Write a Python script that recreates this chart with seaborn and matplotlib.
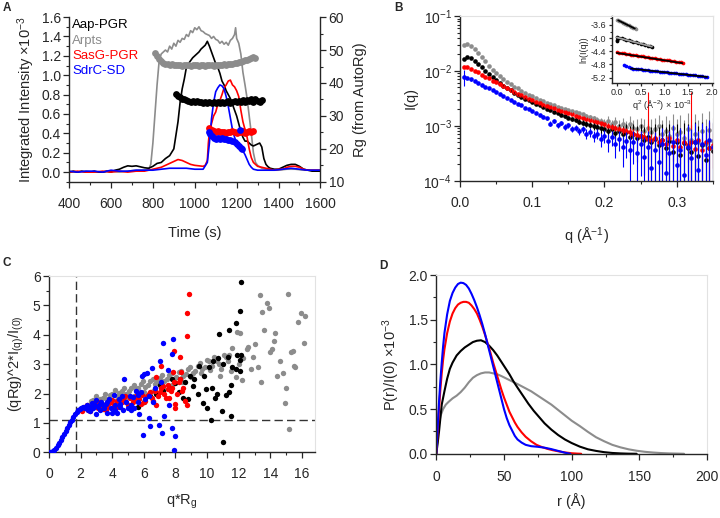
import numpy as np
import matplotlib
matplotlib.use("Agg")
import matplotlib.pyplot as plt
import seaborn as sns
from matplotlib.ticker import MultipleLocator, FormatStrFormatter, LogLocator, NullFormatter

# =========================================
# CORES
# =========================================

GRAY = "#8c8c8c"
RED = "#ff0000"
BLUE = "#0000ff"
BLACK = "#000000"
FAINT = "#e2e2e2"

# =========================================
# A - SEC-SAXS (intensidade e Rg)
# =========================================

aap_t = [400, 420, 440, 460, 480, 500, 520, 540, 560, 580,
         600, 620, 640, 660, 680, 700, 720, 740, 760, 780,
         800, 820, 840, 860, 880, 900, 910, 920, 930, 940,
         950, 960, 970, 980, 990, 1000, 1010, 1020, 1030, 1040,
         1050, 1060, 1070, 1080, 1090, 1100, 1110, 1120, 1130, 1140,
         1150, 1160, 1170, 1180, 1190, 1200, 1210, 1220, 1230, 1240,
         1250, 1260, 1270, 1280, 1290, 1300, 1310, 1320, 1330, 1340,
         1350, 1360, 1380, 1400, 1420, 1440, 1460, 1480, 1500, 1520,
         1540, 1560, 1580, 1600]
aap_i = [0.00, 0.01, 0.00, 0.01, 0.00, 0.00, 0.01, 0.00, 0.00, 0.01,
         0.00, 0.02, 0.03, 0.05, 0.065, 0.06, 0.065, 0.055, 0.045, 0.04,
         0.06, 0.09, 0.10, 0.14, 0.17, 0.24, 0.38, 0.52, 0.72, 0.86,
         0.96, 1.08, 1.12, 1.15, 1.18, 1.20, 1.22, 1.24, 1.27, 1.29,
         1.31, 1.35, 1.30, 1.24, 1.18, 1.12, 1.08, 1.02, 0.94, 0.90,
         0.84, 0.80, 0.76, 0.70, 0.64, 0.58, 0.50, 0.42, 0.36, 0.32,
         0.32, 0.30, 0.28, 0.27, 0.28, 0.29, 0.30, 0.26, 0.14, 0.08,
         0.055, 0.04, 0.03, 0.03, 0.05, 0.07, 0.08, 0.08, 0.06, 0.03,
         0.02, 0.01, 0.01, 0.01]

arp_t = [400, 440, 480, 520, 560, 600, 640, 680, 720, 760,
         780, 790, 800, 810, 820, 830, 840, 850, 860, 870,
         880, 890, 900, 910, 920, 930, 940, 950, 960, 970,
         980, 990, 1000, 1010, 1020, 1030, 1040, 1050, 1060, 1070,
         1080, 1090, 1100, 1110, 1120, 1130, 1140, 1150, 1160, 1170,
         1180, 1190, 1195, 1200, 1210, 1220, 1230, 1240, 1250, 1260,
         1270, 1280, 1290, 1300, 1320, 1340, 1360, 1400, 1440, 1480,
         1520, 1560, 1600]
arp_i = [0.00, 0.00, 0.01, 0.00, 0.00, 0.01, 0.00, 0.01, 0.02, 0.02,
         0.03, 0.08, 0.30, 0.60, 0.90, 1.15, 1.22, 1.24, 1.26, 1.24,
         1.30, 1.27, 1.33, 1.30, 1.36, 1.34, 1.38, 1.37, 1.42, 1.40,
         1.46, 1.44, 1.49, 1.47, 1.50, 1.46, 1.45, 1.43, 1.42, 1.41,
         1.38, 1.40, 1.37, 1.36, 1.33, 1.35, 1.32, 1.34, 1.31, 1.36,
         1.38, 1.42, 1.49, 1.38, 1.33, 1.22, 1.03, 0.90, 0.76, 0.58,
         0.40, 0.20, 0.10, 0.07, 0.04, 0.03, 0.02, 0.02, 0.03, 0.03,
         0.02, 0.02, 0.02]

sas_t = [400, 440, 480, 520, 560, 600, 640, 680, 720, 760,
         800, 820, 840, 860, 880, 900, 920, 940, 960, 980,
         1000, 1020, 1040, 1050, 1060, 1065, 1070, 1075, 1080, 1090,
         1100, 1110, 1120, 1130, 1140, 1150, 1160, 1170, 1180, 1190,
         1200, 1210, 1220, 1230, 1240, 1250, 1260, 1270, 1280, 1290,
         1300, 1320, 1340, 1360, 1380, 1400, 1420, 1440, 1460, 1480,
         1500, 1520, 1540, 1560, 1580, 1600]
sas_i = [0.00, 0.01, 0.00, 0.00, 0.01, 0.00, 0.01, 0.00, 0.01, 0.01,
         0.03, 0.04, 0.05, 0.07, 0.09, 0.11, 0.13, 0.12, 0.10, 0.08,
         0.07, 0.065, 0.06, 0.07, 0.12, 0.30, 0.42, 0.45, 0.50, 0.58,
         0.62, 0.70, 0.74, 0.80, 0.87, 0.90, 0.94, 0.95, 0.90, 0.88,
         0.84, 0.78, 0.64, 0.52, 0.44, 0.36, 0.24, 0.15, 0.10, 0.08,
         0.06, 0.05, 0.04, 0.03, 0.02, 0.03, 0.03, 0.05, 0.06, 0.06,
         0.05, 0.03, 0.02, 0.02, 0.02, 0.02]

sdr_t = [400, 440, 480, 520, 560, 600, 640, 680, 720, 760,
         800, 840, 880, 920, 960, 1000, 1040, 1060, 1070, 1080,
         1090, 1100, 1110, 1120, 1130, 1140, 1150, 1160, 1170, 1180,
         1190, 1200, 1210, 1220, 1230, 1240, 1250, 1260, 1270, 1280,
         1300, 1340, 1380, 1420, 1460, 1500, 1540, 1580, 1600]
sdr_i = [0.01, 0.00, 0.01, 0.01, 0.00, 0.02, 0.01, 0.01, 0.02, 0.02,
         0.02, 0.03, 0.04, 0.04, 0.04, 0.03, 0.03, 0.10, 0.30, 0.55,
         0.72, 0.83, 0.87, 0.90, 0.89, 0.86, 0.78, 0.68, 0.56, 0.44,
         0.36, 0.30, 0.27, 0.25, 0.22, 0.18, 0.13, 0.08, 0.05, 0.03,
         0.02, 0.02, 0.02, 0.03, 0.04, 0.03, 0.02, 0.02, 0.02]

arp_rg_t = [810, 820, 830, 840, 850, 860, 870, 880, 890, 900,
            910, 920, 930, 940, 950, 960, 970, 980, 990, 1000,
            1010, 1020, 1030, 1040, 1050, 1060, 1070, 1080, 1090, 1100,
            1110, 1120, 1130, 1140, 1150, 1160, 1170, 1180, 1190, 1200,
            1210, 1220, 1230, 1240, 1250, 1260, 1270, 1280, 1290]
arp_rg = [49.0, 48.2, 47.3, 46.6, 46.2, 45.9, 45.8, 45.6, 45.7, 45.5,
          45.6, 45.4, 45.5, 45.3, 45.5, 45.4, 45.6, 45.3, 45.5, 45.4,
          45.6, 45.3, 45.4, 45.5, 45.3, 45.5, 45.4, 45.6, 45.3, 45.5,
          45.4, 45.6, 45.5, 45.7, 45.6, 45.8, 45.7, 45.9, 46.0, 46.1,
          46.3, 46.5, 46.6, 46.9, 47.1, 47.3, 47.6, 47.8, 47.5]

aap_rg_t = [910, 920, 930, 940, 950, 960, 970, 980, 990, 1000,
            1010, 1020, 1030, 1040, 1050, 1060, 1070, 1080, 1090, 1100,
            1110, 1120, 1130, 1140, 1150, 1160, 1170, 1180, 1190, 1200,
            1210, 1220, 1230, 1240, 1250, 1260, 1270, 1280, 1290, 1300,
            1310, 1320]
aap_rg = [36.6, 36.0, 35.6, 35.2, 35.0, 34.7, 34.6, 34.3, 34.5, 34.2,
          34.4, 34.1, 34.3, 34.0, 34.2, 33.9, 34.1, 33.8, 34.2, 33.9,
          34.1, 34.0, 34.3, 33.9, 34.2, 34.4, 34.0, 34.3, 34.6, 34.1,
          34.5, 34.2, 34.7, 34.3, 34.8, 34.4, 35.0, 34.3, 35.2, 34.6,
          34.3, 34.8]

sas_rg_t = [1070, 1080, 1090, 1100, 1110, 1120, 1130, 1140, 1150, 1160,
            1170, 1180, 1190, 1200, 1210, 1220, 1230, 1240, 1250, 1260,
            1270, 1280]
sas_rg = [26.2, 25.6, 25.4, 25.2, 25.3, 25.0, 25.2, 25.1, 24.9, 25.2,
          25.0, 25.3, 25.1, 24.8, 25.2, 25.0, 25.3, 24.9, 25.2, 25.4,
          25.0, 25.3]

sdr_rg_t = [1070, 1075, 1080, 1090, 1100, 1110, 1120, 1130, 1140, 1150,
            1160, 1170, 1180, 1190, 1200, 1210, 1215, 1220, 1225]
sdr_rg = [25.0, 24.6, 24.0, 23.4, 23.1, 23.3, 23.0, 23.2, 23.1, 22.9,
          22.8, 22.6, 22.3, 22.0, 21.4, 20.8, 25.6, 20.2, 20.0]

legend_names = ["Aap-PGR", "Arpts", "SasG-PGR", "SdrC-SD"]
legend_colors = [BLACK, GRAY, RED, BLUE]

# =========================================
# B - I(q) (valores em 10^-3)
# =========================================

q_b = [0.005, 0.010, 0.015, 0.020, 0.025, 0.030, 0.035, 0.040, 0.045, 0.050,
       0.055, 0.060, 0.065, 0.070, 0.075, 0.080, 0.085, 0.090, 0.095, 0.100,
       0.105, 0.110, 0.115, 0.120, 0.125, 0.130, 0.135, 0.140, 0.145, 0.150,
       0.155, 0.160, 0.165, 0.170, 0.175, 0.180, 0.185, 0.190, 0.195, 0.200,
       0.205, 0.210, 0.215, 0.220, 0.225, 0.230, 0.235, 0.240, 0.245, 0.250,
       0.255, 0.260, 0.265, 0.270, 0.275, 0.280, 0.285, 0.290, 0.295, 0.300,
       0.305, 0.310, 0.315, 0.320, 0.325, 0.330, 0.335, 0.340, 0.345, 0.350]

arp_iq = [30, 31.5, 29, 25.5, 21.5, 18, 15, 12.5, 10.5, 9.0,
          8.0, 7.2, 6.4, 5.8, 5.2, 4.8, 4.4, 4.0, 3.7, 3.45,
          3.2, 3.0, 2.8, 2.65, 2.5, 2.35, 2.25, 2.15, 2.05, 1.95,
          1.85, 1.78, 1.7, 1.62, 1.52, 1.45, 1.38, 1.3, 1.22, 1.15,
          1.25, 1.08, 1.18, 1.0, 1.06, 0.95, 1.1, 0.92, 0.86, 0.98,
          0.82, 0.9, 0.78, 0.88, 1.0, 0.72, 0.82, 0.66, 0.92, 0.7,
          0.78, 0.6, 0.86, 0.56, 0.72, 0.5, 0.8, 0.46, 0.85, 0.52]
arp_err = [0.6, 0.5, 0.4, 0.3, 0.25, 0.2, 0.15, 0.12, 0.1, 0.08,
           0.07, 0.06, 0.06, 0.05, 0.05, 0.05, 0.05, 0.05, 0.05, 0.05,
           0.06, 0.06, 0.07, 0.07, 0.08, 0.08, 0.09, 0.09, 0.1, 0.1,
           0.11, 0.11, 0.12, 0.12, 0.13, 0.14, 0.15, 0.16, 0.17, 0.18,
           0.25, 0.22, 0.3, 0.26, 0.35, 0.3, 0.4, 0.35, 0.45, 0.4,
           0.5, 0.45, 0.55, 0.5, 0.6, 0.55, 0.7, 0.6, 0.75, 0.65,
           0.8, 0.7, 0.85, 0.75, 0.9, 0.8, 0.95, 0.85, 1.0, 0.9]

aap_iq = [16.5, 18, 17, 15.2, 13.3, 11.6, 10.1, 8.8, 7.7, 6.8,
          6.0, 5.4, 4.9, 4.45, 4.05, 3.7, 3.4, 3.15, 2.9, 2.7,
          2.5, 2.35, 2.2, 2.05, 1.92, 1.8, 1.7, 1.6, 1.5, 1.42,
          1.35, 1.28, 1.2, 1.15, 1.1, 1.05, 1.0, 0.95, 0.9, 0.88,
          0.8, 0.86, 0.74, 0.8, 0.7, 0.76, 0.64, 0.72, 0.6, 0.66,
          0.55, 0.62, 0.5, 0.58, 0.45, 0.56, 0.4, 0.52, 0.34, 0.5,
          0.3, 0.48, 0.4, 0.34, 0.5, 0.28, 0.45, 0.24, 0.4, 0.35]
aap_err = [0.4, 0.35, 0.3, 0.25, 0.2, 0.15, 0.12, 0.1, 0.08, 0.07,
           0.06, 0.05, 0.05, 0.05, 0.05, 0.05, 0.05, 0.05, 0.05, 0.05,
           0.05, 0.06, 0.06, 0.07, 0.07, 0.08, 0.08, 0.09, 0.09, 0.1,
           0.1, 0.11, 0.12, 0.13, 0.14, 0.15, 0.16, 0.17, 0.18, 0.2,
           0.22, 0.24, 0.26, 0.28, 0.3, 0.32, 0.34, 0.36, 0.38, 0.4,
           0.42, 0.44, 0.46, 0.48, 0.5, 0.52, 0.54, 0.56, 0.58, 0.6,
           0.62, 0.64, 0.66, 0.68, 0.7, 0.72, 0.74, 0.76, 0.78, 0.8]

sas_iq = [12.0, 11.6, 10.9, 10.1, 9.4, 8.6, 7.9, 7.3, 6.7, 6.2,
          5.7, 5.25, 4.85, 4.5, 4.15, 3.85, 3.6, 3.35, 3.15, 2.95,
          2.75, 2.6, 2.45, 2.32, 2.2, 2.08, 1.98, 1.88, 1.78, 1.7,
          1.62, 1.54, 1.47, 1.4, 1.33, 1.27, 1.21, 1.16, 1.11, 1.06,
          1.01, 0.96, 0.92, 0.88, 0.84, 0.8, 0.76, 0.72, 0.69, 0.66,
          0.62, 0.58, 0.55, 0.6, 0.5, 0.56, 0.46, 0.6, 0.43, 0.55,
          0.41, 0.5, 0.44, 0.5, 0.38, 0.55, 0.36, 0.5, 0.4, 0.45]
sas_err = [0.3, 0.25, 0.2, 0.15, 0.12, 0.1, 0.08, 0.07, 0.06, 0.05,
           0.05, 0.05, 0.05, 0.05, 0.05, 0.05, 0.05, 0.05, 0.05, 0.05,
           0.05, 0.05, 0.05, 0.05, 0.06, 0.06, 0.06, 0.06, 0.07, 0.07,
           0.07, 0.08, 0.08, 0.08, 0.09, 0.09, 0.09, 0.1, 0.1, 0.1,
           0.11, 0.11, 0.12, 0.12, 0.13, 0.13, 0.14, 0.14, 0.15, 0.15,
           0.16, 3.5, 0.17, 0.17, 0.18, 0.18, 0.19, 0.19, 0.2, 0.2,
           0.21, 0.21, 0.22, 3.6, 0.23, 0.24, 0.25, 0.26, 0.8, 0.28]

sdr_iq = [7.8, 7.4, 7.0, 6.5, 6.1, 5.6, 5.2, 4.85, 4.5, 4.15,
          3.85, 3.55, 3.25, 3.0, 2.75, 2.55, 2.35, 2.15, 2.0, 1.85,
          1.7, 1.58, 1.47, 1.38, 1.1, 1.25, 1.02, 1.12, 0.96, 1.02,
          0.88, 0.92, 0.8, 0.86, 0.72, 0.78, 0.65, 0.72, 0.58, 0.66,
          0.52, 0.62, 0.46, 0.57, 0.42, 0.52, 0.36, 0.5, 0.32, 0.46,
          0.27, 0.42, 0.17, 0.36, 0.22, 0.46, 0.14, 0.32, 0.5, 0.19,
          0.36, 0.13, 0.42, 0.26, 0.5, 0.16, 0.46, 0.3, 0.55, 0.42]
sdr_err = [2.5, 0.4, 0.3, 0.25, 0.2, 0.15, 0.12, 0.1, 0.09, 0.08,
           0.07, 0.07, 0.06, 0.06, 0.06, 0.06, 0.06, 0.06, 0.06, 0.06,
           0.07, 0.07, 0.08, 0.08, 0.12, 0.1, 0.1, 0.1, 0.11, 0.11,
           0.12, 0.12, 0.13, 0.13, 0.14, 0.14, 0.15, 0.15, 0.16, 0.17,
           0.18, 0.19, 0.2, 0.22, 0.24, 0.26, 0.28, 0.3, 0.32, 0.34,
           0.36, 0.38, 0.4, 0.42, 0.44, 0.46, 0.48, 0.5, 0.52, 0.54,
           0.56, 0.58, 0.6, 0.62, 0.64, 0.66, 0.68, 0.7, 0.72, 0.74]

# inset Guinier: q^2 (x10^-3) vs ln(I)
ins_arp_x = [0.0, 0.025, 0.05, 0.075, 0.1, 0.125, 0.15, 0.175, 0.2, 0.225,
             0.25, 0.275, 0.3, 0.325, 0.35, 0.375, 0.4]
ins_arp_y = [-3.44, -3.46, -3.475, -3.495, -3.51, -3.53, -3.545, -3.565, -3.58, -3.6,
             -3.615, -3.635, -3.65, -3.67, -3.685, -3.705, -3.72]
ins_aap_x = [0.0, 0.0, 0.01, 0.05, 0.1, 0.15, 0.2, 0.25, 0.3, 0.35,
             0.4, 0.45, 0.5, 0.55, 0.6, 0.65, 0.7, 0.74]
ins_aap_y = [-3.97, -4.06, -4.1, -3.99, -4.01, -4.03, -4.05, -4.07, -4.09, -4.11,
             -4.13, -4.15, -4.17, -4.19, -4.21, -4.23, -4.25, -4.26]
ins_sas_x = [0.0, 0.05, 0.1, 0.15, 0.2, 0.25, 0.3, 0.35, 0.4, 0.45,
             0.5, 0.55, 0.6, 0.65, 0.7, 0.75, 0.8, 0.85, 0.9, 0.95,
             1.0, 1.05, 1.1, 1.15, 1.2, 1.25, 1.3, 1.35, 1.4]
ins_sas_y = [-4.43, -4.44, -4.45, -4.465, -4.475, -4.49, -4.5, -4.51, -4.52, -4.535,
             -4.545, -4.555, -4.57, -4.58, -4.59, -4.6, -4.615, -4.625, -4.635, -4.65,
             -4.66, -4.67, -4.68, -4.695, -4.705, -4.715, -4.73, -4.74, -4.755]
ins_sdr_x = [0.15, 0.2, 0.25, 0.3, 0.35, 0.4, 0.45, 0.5, 0.55, 0.6,
             0.65, 0.7, 0.75, 0.8, 0.85, 0.9, 0.95, 1.0, 1.05, 1.1,
             1.15, 1.2, 1.25, 1.3, 1.35, 1.4, 1.45, 1.5, 1.55, 1.6,
             1.65, 1.7, 1.75, 1.8, 1.85, 1.9]
ins_sdr_y = [-4.83, -4.86, -4.89, -4.92, -4.93, -4.935, -4.945, -4.95, -4.96, -4.97,
             -4.975, -4.985, -4.99, -5.0, -5.01, -5.015, -5.025, -5.03, -5.04, -5.05,
             -5.055, -5.065, -5.07, -5.08, -5.09, -5.095, -5.105, -5.11, -5.12, -5.13,
             -5.135, -5.145, -5.15, -5.16, -5.17, -5.175]

fit_arp_x, fit_arp_y = [0.03, 0.38], [-3.46, -3.71]
fit_aap_x, fit_aap_y = [0.0, 0.74], [-3.98, -4.26]
fit_sas_x, fit_sas_y = [0.0, 1.38], [-4.45, -4.76]
fit_sdr_x, fit_sdr_y = [0.3, 1.9], [-4.925, -5.18]

# =========================================
# C - Kratky adimensional
# =========================================

GUINIER_X = 1.73
GUINIER_Y = 1.1

arp_kr_x = [2.5, 2.8, 3.1, 3.4, 3.7, 4.0, 4.3, 4.6, 4.9, 5.2,
            5.5, 5.8, 6.1, 6.4, 6.7, 7.0, 7.3, 7.6, 7.9, 8.2,
            8.5, 8.8, 9.1, 9.4, 9.7, 10.0, 10.3, 10.6, 10.9, 11.2,
            11.5, 11.8,
            3.0, 3.6, 4.2, 4.8, 5.4, 6.0, 6.6, 7.2, 7.8, 8.4,
            9.0, 9.6, 10.2, 10.8, 11.4, 12.0,
            2.65, 2.95, 3.25, 3.55, 3.85, 4.15, 4.45, 4.75, 5.05, 5.35,
            5.65, 5.95, 6.25, 6.55, 6.85, 7.15, 7.45, 7.75, 8.05, 8.35,
            8.65, 8.95, 9.25, 9.55, 9.85, 10.15, 10.45, 10.75, 11.05, 11.35,
            11.9, 12.1, 12.2, 12.3, 12.8, 12.6, 13.0, 13.2, 13.35, 13.46,
            13.57, 13.78, 13.9, 14.0, 14.2, 14.4, 14.6, 14.8, 14.94, 15.13,
            15.2, 15.4, 15.5, 15.55, 15.76, 15.95, 16.1, 16.2, 12.5, 13.4,
            14.1, 14.3, 15.0, 15.3, 11.6, 12.9]
arp_kr_y = [1.62, 1.78, 1.68, 1.86, 1.8, 1.97, 1.9, 2.08, 2.0, 2.18,
            2.15, 2.32, 2.22, 2.42, 2.33, 2.52, 2.42, 2.62, 2.5, 2.72,
            2.6, 2.85, 2.7, 2.95, 2.85, 3.15, 2.95, 3.1, 2.85, 3.25,
            2.75, 2.55,
            1.55, 1.65, 1.75, 1.82, 1.9, 2.05, 2.1, 2.2, 2.3, 2.4,
            2.55, 2.7, 2.8, 2.6, 3.3, 3.0,
            1.75, 1.9, 1.82, 2.0, 1.95, 2.12, 2.02, 2.2, 2.1, 2.3,
            2.2, 2.42, 2.3, 2.5, 2.4, 2.62, 2.48, 2.7, 2.55, 2.78,
            2.65, 2.9, 2.75, 3.05, 2.9, 3.1, 3.25, 3.0, 3.3, 3.1,
            4.1, 4.05, 2.45, 3.2, 2.85, 3.6, 3.7, 2.9, 5.35, 4.77,
            4.18, 5.1, 4.9, 3.4, 3.8, 2.6, 3.1, 2.7, 1.68, 5.4,
            0.8, 3.45, 2.95, 2.9, 4.43, 4.73, 3.73, 4.65, 3.5, 2.4,
            3.5, 4.05, 2.2, 3.4, 3.55, 3.25]

aap_kr_x = [5.6, 6.0, 6.4, 6.8, 7.2, 7.6, 8.0, 8.3, 8.6, 8.9,
            9.2, 9.5, 9.8, 10.1, 10.4, 10.7, 11.0, 11.3, 11.6, 11.9,
            12.1,
            7.0, 7.8, 8.2, 8.8, 9.4, 9.9, 10.3, 10.6, 11.2, 11.5,
            11.8, 12.1,
            9.77, 10.23, 10.93, 11.03, 11.5, 10.74, 11.37, 11.81, 12.05, 12.15,
            12.13,
            8.5, 9.1, 10.0, 10.5, 11.4]
aap_kr_y = [1.55, 1.7, 1.9, 2.0, 2.1, 2.2, 2.35, 2.5, 2.4, 2.6,
            2.5, 2.95, 2.6, 2.9, 3.1, 3.2, 3.0, 3.25, 2.9, 3.3,
            3.15,
            2.3, 2.5, 2.05, 1.8, 2.0, 2.15, 2.2, 2.0, 1.95, 2.3,
            2.85, 2.75,
            1.68, 1.1, 1.41, 0.36, 1.24, 4.03, 4.16, 4.39, 4.82, 5.79,
            3.31,
            1.85, 2.25, 1.5, 1.85, 2.05]

sas_kr_x = [2.1, 2.3, 2.5, 2.7, 2.9, 3.1, 3.3, 3.5, 3.7, 3.9,
            4.1, 4.3, 4.5, 4.7, 4.9, 5.1, 5.3, 5.5, 5.7, 5.9,
            6.1, 6.3, 6.5, 6.7, 6.9, 7.1, 7.3, 7.5, 7.7, 7.9,
            8.1, 8.3, 8.5, 8.7,
            2.4, 2.8, 3.2, 3.6, 4.0, 4.4, 4.8, 5.2, 5.6, 6.0,
            6.4, 6.8, 7.2, 7.6, 8.0, 8.4,
            2.2, 2.6, 3.0, 3.4, 3.8, 4.2, 4.6, 5.0, 5.4, 5.8,
            6.2, 6.6, 7.0, 7.4, 7.8, 8.2,
            7.9, 8.27, 8.6, 8.76, 8.76, 8.84, 7.1, 7.85, 8.38, 6.8,
            7.53, 8.0]
sas_kr_y = [1.42, 1.5, 1.45, 1.55, 1.6, 1.5, 1.58, 1.62, 1.55, 1.7,
            1.6, 1.75, 1.65, 1.8, 1.72, 1.85, 1.7, 1.9, 1.8, 1.95,
            1.75, 2.0, 1.85, 2.1, 1.9, 2.2, 2.0, 2.3, 2.1, 2.4,
            2.0, 2.5, 2.2, 1.6,
            1.6, 1.68, 1.72, 1.45, 1.78, 1.55, 1.9, 1.62, 2.0, 1.7,
            2.05, 1.6, 2.25, 1.85, 1.65, 2.1,
            1.55, 1.4, 1.65, 1.48, 1.68, 1.5, 1.7, 1.6, 1.8, 1.65,
            1.9, 1.75, 2.05, 1.85, 2.2, 2.4,
            3.44, 3.24, 1.73, 3.95, 4.75, 5.4, 2.95, 2.73, 2.73, 2.55,
            2.16, 1.5]

sdr_kr_x = [0.05, 0.15, 0.25, 0.35, 0.45, 0.55, 0.65, 0.75, 0.85, 0.95,
            1.05, 1.15, 1.25, 1.35, 1.45, 1.55, 1.65, 1.75, 1.85, 1.95,
            2.05, 2.15, 2.25,
            2.3, 2.4, 2.5, 2.6, 2.7, 2.8, 2.9, 3.0, 3.0, 3.1,
            3.2, 3.3, 3.4, 3.5, 3.6, 3.7, 3.8, 3.9, 4.0, 4.1,
            4.2, 4.3, 4.4, 4.5, 4.6, 4.7, 4.75, 4.9, 5.0, 5.1,
            5.2, 5.3, 5.4, 5.5, 5.6, 5.7, 5.8, 5.9, 5.95, 6.0,
            6.1, 6.2, 6.35, 6.4, 6.5, 6.6, 6.7, 6.95, 7.0, 7.1,
            7.15, 7.2, 7.3, 7.5, 7.6, 7.75, 7.75, 7.85, 7.9, 7.95,
            2.6, 3.2, 3.7, 4.2, 4.5, 5.2, 5.6, 6.3]
sdr_kr_y = [0.0, 0.01, 0.04, 0.09, 0.15, 0.23, 0.31, 0.41, 0.52, 0.62,
            0.72, 0.83, 0.93, 1.02, 1.1, 1.2, 1.3, 1.37, 1.43, 1.47,
            1.5, 1.54, 1.55,
            1.5, 1.62, 1.45, 1.55, 1.68, 1.5, 1.6, 1.78, 1.3, 1.55,
            1.45, 1.72, 1.6, 1.52, 1.64, 1.35, 1.8, 1.5, 1.35, 1.95,
            1.62, 1.35, 1.8, 1.55, 1.9, 1.45, 2.48, 1.72, 1.5, 1.92,
            1.62, 1.88, 1.5, 2.1, 1.95, 1.3, 2.05, 2.6, 0.59, 2.67,
            1.8, 2.7, 1.15, 0.89, 2.88, 1.7, 2.2, 0.92, 3.1, 2.4,
            0.65, 3.72, 1.25, 2.8, 1.6, 3.35, 0.82, 3.86, 0.08, 0.55,
            1.42, 1.65, 1.7, 1.45, 1.65, 1.45, 1.7, 1.9]

# =========================================
# D - P(r)
# =========================================

arp_r = [0, 1, 2, 3, 5, 7, 9, 12, 15, 18,
         21, 24, 27, 30, 33, 36, 39, 42, 45, 48,
         52, 56, 60, 65, 70, 75, 80, 85, 90, 95,
         100, 106, 112, 118, 124, 130, 136, 142, 148, 154,
         160, 166, 172, 178, 183]
arp_pr = [0, 0.19, 0.33, 0.42, 0.5, 0.55, 0.58, 0.62, 0.65, 0.69,
          0.74, 0.8, 0.85, 0.88, 0.9, 0.91, 0.91, 0.9, 0.89, 0.87,
          0.84, 0.81, 0.78, 0.74, 0.7, 0.65, 0.6, 0.55, 0.49, 0.43,
          0.37, 0.31, 0.245, 0.185, 0.14, 0.1, 0.072, 0.05, 0.034, 0.022,
          0.014, 0.008, 0.004, 0.002, 0.0]

aap_r = [0, 1, 2, 4, 6, 8, 10, 12, 15, 18,
         21, 24, 27, 30, 33, 36, 39, 42, 45, 48,
         51, 54, 57, 60, 64, 68, 72, 76, 80, 85,
         90, 95, 100, 106, 112, 118, 124, 130, 136, 142,
         148]
aap_pr = [0, 0.12, 0.25, 0.55, 0.7, 0.84, 0.95, 1.02, 1.1, 1.15,
          1.19, 1.22, 1.25, 1.265, 1.27, 1.25, 1.21, 1.16, 1.1, 1.03,
          0.96, 0.89, 0.81, 0.74, 0.65, 0.56, 0.48, 0.41, 0.34, 0.27,
          0.21, 0.16, 0.12, 0.08, 0.05, 0.032, 0.018, 0.009, 0.004, 0.001,
          0.0]

sas_r = [0, 1, 2, 3, 4, 5, 6, 8, 10, 12,
         14, 16, 18, 20, 22, 24, 26, 28, 30, 32,
         34, 36, 38, 40, 42, 44, 46, 48, 50, 52,
         54, 56, 58, 60, 63, 66, 70, 74, 78, 82,
         86, 90, 95, 100, 104, 107]
sas_pr = [0, 0.25, 0.5, 0.72, 0.9, 1.05, 1.17, 1.35, 1.48, 1.57,
          1.63, 1.67, 1.69, 1.70, 1.70, 1.69, 1.66, 1.62, 1.57, 1.5,
          1.42, 1.33, 1.23, 1.13, 1.02, 0.92, 0.82, 0.72, 0.63, 0.55,
          0.47, 0.41, 0.35, 0.3, 0.24, 0.19, 0.14, 0.1, 0.075, 0.055,
          0.04, 0.028, 0.015, 0.006, 0.002, 0.0]

sdr_r = [0, 1, 2, 3, 4, 5, 6, 8, 10, 12,
         14, 16, 18, 20, 22, 24, 26, 28, 30, 32,
         34, 36, 38, 40, 42, 44, 46, 48, 50, 52,
         54, 56, 58, 60, 63, 66, 70, 75, 80, 85,
         90, 95, 99]
sdr_pr = [0, 0.3, 0.58, 0.82, 1.02, 1.2, 1.35, 1.56, 1.71, 1.8,
          1.86, 1.9, 1.915, 1.91, 1.89, 1.85, 1.79, 1.72, 1.64, 1.55,
          1.45, 1.34, 1.22, 1.1, 0.98, 0.86, 0.74, 0.62, 0.5, 0.4,
          0.32, 0.26, 0.2, 0.16, 0.125, 0.1, 0.085, 0.078, 0.068, 0.052,
          0.032, 0.012, 0.0]

# =========================================
# ESTILO
# =========================================

sns.set_style("ticks")
plt.rcParams["font.family"] = ["Liberation Sans", "DejaVu Sans"]
plt.rcParams["mathtext.fontset"] = "custom"
plt.rcParams["mathtext.rm"] = "Liberation Sans"
plt.rcParams["mathtext.it"] = "Liberation Sans:italic"
plt.rcParams["mathtext.bf"] = "Liberation Sans:bold"

TICK_FS = 10
LABEL_FS = 10.5


def style_axes(ax, faint=True, fs=TICK_FS, xpad=7):
    ax.spines["left"].set_linewidth(1.0)
    ax.spines["bottom"].set_linewidth(1.0)
    for s in ["top", "right"]:
        if faint:
            ax.spines[s].set_color(FAINT)
            ax.spines[s].set_linewidth(0.8)
        else:
            ax.spines[s].set_visible(False)
    ax.tick_params(which="major", direction="out", length=4, width=0.9,
                   labelsize=fs)
    ax.tick_params(which="minor", direction="out", length=2.5, width=0.8)
    ax.tick_params(axis="x", which="major", pad=xpad)
    ax.tick_params(axis="y", which="major", pad=2)


fig = plt.figure(figsize=(7.2, 5.18), dpi=100)

# =========================================
# PAINEL A
# =========================================

ax_a = fig.add_axes([0.096, 0.649, 0.349, 0.318])
ax_rg = ax_a.twinx()

for t, v, c in [(arp_t, arp_i, GRAY), (aap_t, aap_i, BLACK),
                (sas_t, sas_i, RED), (sdr_t, sdr_i, BLUE)]:
    sns.lineplot(x=t, y=v, color=c, linewidth=1.2, estimator=None,
                 sort=False, ax=ax_a)

for t, v, c in [(arp_rg_t, arp_rg, GRAY), (aap_rg_t, aap_rg, BLACK),
                (sas_rg_t, sas_rg, RED), (sdr_rg_t, sdr_rg, BLUE)]:
    sns.scatterplot(x=t, y=v, color=c, s=24, linewidth=0, legend=False,
                    ax=ax_rg)

ax_a.set_xlim(400, 1600)
ax_a.set_ylim(-0.1, 1.6)
ax_rg.set_ylim(10, 60)

style_axes(ax_a, faint=False)
ax_a.spines["right"].set_visible(False)
for s in ["top", "left", "bottom"]:
    ax_rg.spines[s].set_visible(False)
ax_rg.spines["right"].set_linewidth(1.0)
ax_rg.tick_params(which="major", direction="out", length=4, width=0.9,
                  labelsize=TICK_FS, pad=2)
ax_rg.tick_params(which="minor", direction="out", length=2.5, width=0.8)

ax_a.xaxis.set_major_locator(MultipleLocator(200))
ax_a.xaxis.set_minor_locator(MultipleLocator(100))
ax_a.yaxis.set_major_locator(MultipleLocator(0.2))
ax_a.yaxis.set_minor_locator(MultipleLocator(0.1))
ax_a.yaxis.set_major_formatter(FormatStrFormatter("%.1f"))
ax_rg.yaxis.set_major_locator(MultipleLocator(10))
ax_rg.yaxis.set_minor_locator(MultipleLocator(5))

ax_a.set_xlabel("Time (s)", fontsize=LABEL_FS, labelpad=11)
ax_a.set_ylabel(r"Integrated Intensity ×10$^{-3}$", fontsize=LABEL_FS, labelpad=3)
ax_rg.set_ylabel("Rg (from AutoRg)", fontsize=LABEL_FS, labelpad=6)

for k, (name, c) in enumerate(zip(legend_names, legend_colors)):
    ax_a.text(0.012, 0.95 - k * 0.093, name, color=c, fontsize=9.5,
              transform=ax_a.transAxes, va="center", ha="left")

# =========================================
# PAINEL B
# =========================================

ax_b = fig.add_axes([0.639, 0.651, 0.351, 0.318])
q_arr = np.array(q_b)
for iq, err, c in [(arp_iq, arp_err, GRAY), (aap_iq, aap_err, BLACK),
                   (sas_iq, sas_err, RED), (sdr_iq, sdr_err, BLUE)]:
    iq = np.array(iq) * 1e-3
    err = np.array(err) * 1e-3
    ax_b.errorbar(q_arr, iq, yerr=err, fmt="none", ecolor=c, elinewidth=0.8,
                  capsize=0)
    sns.scatterplot(x=q_arr, y=iq, color=c, s=11, linewidth=0, legend=False,
                    ax=ax_b)

ax_b.set_yscale("log")
ax_b.set_xlim(0, 0.35)
ax_b.set_ylim(1e-4, 1e-1)
style_axes(ax_b)
ax_b.xaxis.set_major_locator(MultipleLocator(0.1))
ax_b.xaxis.set_minor_locator(MultipleLocator(0.05))
ax_b.xaxis.set_major_formatter(FormatStrFormatter("%.1f"))
ax_b.yaxis.set_major_locator(LogLocator(base=10))
ax_b.yaxis.set_minor_locator(LogLocator(base=10, subs=np.arange(2, 10)))
ax_b.yaxis.set_minor_formatter(NullFormatter())
ax_b.set_xlabel(r"q (Å$^{-1}$)", fontsize=LABEL_FS, labelpad=11)
ax_b.set_ylabel("I(q)", fontsize=LABEL_FS, labelpad=4)

# inset
ax_in = fig.add_axes([0.85, 0.84, 0.140, 0.129])
for x, y, c in [(ins_arp_x, ins_arp_y, GRAY), (ins_aap_x, ins_aap_y, BLACK),
                (ins_sas_x, ins_sas_y, RED), (ins_sdr_x, ins_sdr_y, BLUE)]:
    sns.scatterplot(x=x, y=y, color=c, s=7, linewidth=0, legend=False, ax=ax_in)
for x, y, c in [(fit_arp_x, fit_arp_y, BLACK), (fit_aap_x, fit_aap_y, "#a0a0a0"),
                (fit_sas_x, fit_sas_y, BLACK), (fit_sdr_x, fit_sdr_y, BLACK)]:
    sns.lineplot(x=x, y=y, color=c, linewidth=1.3, estimator=None, sort=False,
                 ax=ax_in)
ax_in.set_xlim(-0.1, 2.02)
ax_in.set_ylim(-5.36, -3.33)
style_axes(ax_in, fs=6.5, xpad=1.5)
ax_in.tick_params(which="major", length=2.5)
ax_in.tick_params(which="minor", length=1.5)
ax_in.xaxis.set_major_locator(MultipleLocator(0.5))
ax_in.xaxis.set_minor_locator(MultipleLocator(0.25))
ax_in.xaxis.set_major_formatter(FormatStrFormatter("%.1f"))
ax_in.yaxis.set_major_locator(MultipleLocator(0.4))
ax_in.yaxis.set_minor_locator(MultipleLocator(0.2))
ax_in.yaxis.set_major_formatter(FormatStrFormatter("%.1f"))
ax_in.set_xlabel(r"q$^2$ (Å$^{-2}$) × 10$^{-3}$", fontsize=6.5, labelpad=0.5)
ax_in.set_ylabel("ln(I(q))", fontsize=6.5, labelpad=1)

# =========================================
# PAINEL C
# =========================================

ax_c = fig.add_axes([0.068, 0.127, 0.369, 0.340])
ax_c.axvline(GUINIER_X, color="#333333", lw=1.0, dashes=(6, 3), zorder=1)
ax_c.axhline(GUINIER_Y, color="#333333", lw=1.0, dashes=(6, 3), zorder=1)
for x, y, c in [(arp_kr_x, arp_kr_y, GRAY), (aap_kr_x, aap_kr_y, BLACK),
                (sas_kr_x, sas_kr_y, RED), (sdr_kr_x, sdr_kr_y, BLUE)]:
    sns.scatterplot(x=x, y=y, color=c, s=15, linewidth=0, legend=False, ax=ax_c,
                    zorder=3)
ax_c.set_xlim(0, 16.8)
ax_c.set_ylim(0, 6)
style_axes(ax_c)
ax_c.xaxis.set_major_locator(MultipleLocator(2))
ax_c.xaxis.set_minor_locator(MultipleLocator(1))
ax_c.yaxis.set_major_locator(MultipleLocator(1))
ax_c.yaxis.set_minor_locator(MultipleLocator(0.5))
ax_c.set_xlabel(r"q*R$_\mathrm{g}$", fontsize=LABEL_FS, labelpad=8)
ax_c.set_ylabel(r"(qRg)^2*I$_\mathrm{(q)}$/I$_\mathrm{(0)}$", fontsize=LABEL_FS,
                labelpad=5)

# =========================================
# PAINEL D
# =========================================

ax_d = fig.add_axes([0.606, 0.124, 0.376, 0.345])
for r, p, c in [(arp_r, arp_pr, GRAY), (aap_r, aap_pr, BLACK),
                (sas_r, sas_pr, RED), (sdr_r, sdr_pr, BLUE)]:
    sns.lineplot(x=r, y=p, color=c, linewidth=1.5, estimator=None, sort=False,
                 ax=ax_d)
ax_d.set_xlim(0, 200)
ax_d.set_ylim(0, 2.0)
style_axes(ax_d, xpad=8)
ax_d.xaxis.set_major_locator(MultipleLocator(50))
ax_d.xaxis.set_minor_locator(MultipleLocator(25))
ax_d.yaxis.set_major_locator(MultipleLocator(0.5))
ax_d.yaxis.set_minor_locator(MultipleLocator(0.25))
ax_d.yaxis.set_major_formatter(FormatStrFormatter("%.1f"))
ax_d.set_xlabel("r (Å)", fontsize=LABEL_FS, labelpad=6)
ax_d.set_ylabel(r"P(r)/I(0) ×10$^{-3}$", fontsize=LABEL_FS, labelpad=5)

# =========================================
# LETRAS DOS PAINEIS
# =========================================

for txt, x, y in [("A", 0.004, 0.996), ("B", 0.548, 0.996),
                  ("C", 0.003, 0.503), ("D", 0.527, 0.498)]:
    fig.text(x, y, txt, fontsize=8.5, fontweight="bold", va="top", ha="left")

fig.savefig("out.png", dpi=100)
